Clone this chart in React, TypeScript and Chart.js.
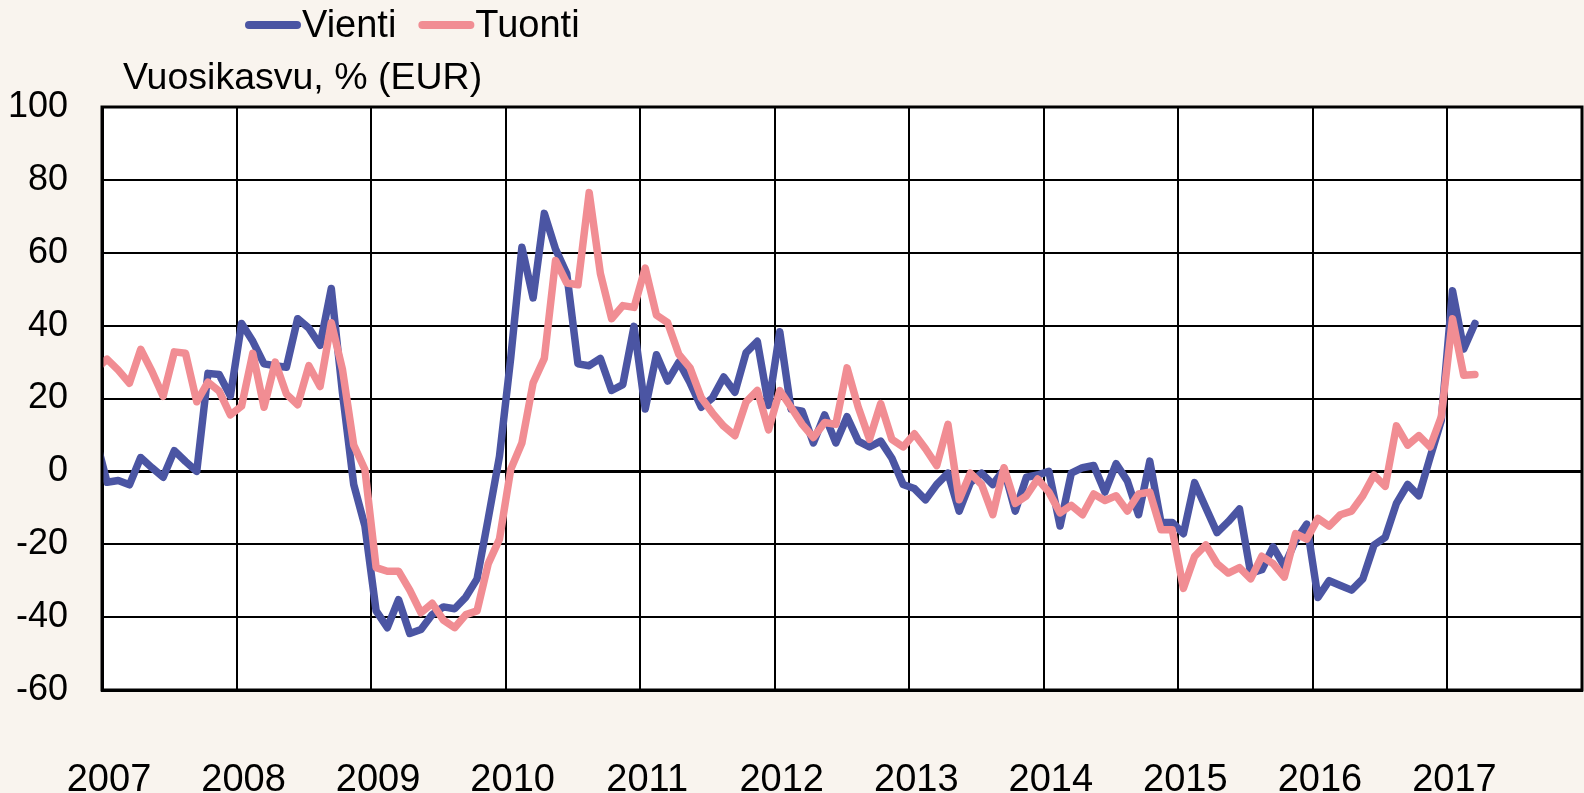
import React, { useEffect, useRef } from "react";
import { Chart, registerables } from "chart.js";

Chart.register(...registerables);

// Monthly series, Dec 2006 .. Mar 2017 (first value lies just before the axis start)
const YEAR_LABELS = ["2007", "2008", "2009", "2010", "2011", "2012", "2013", "2014", "2015", "2016", "2017"];
const Y_TICKS = [-60, -40, -20, 0, 20, 40, 60, 80, 100];

const VIENTI = [
  9,
  -3, -2.5, -3.7, 3.8, 1.0, -1.6, 5.7, 2.7, 0, 26.9, 26.6, 20.7,
  40.6, 35.7, 29.5, 29.0, 28.6, 41.9, 39.3, 34.6, 50.2, 21.5, -3.6, -15.0,
  -38.3, -42.9, -35.2, -44.5, -43.4, -39.3, -37.2, -37.7, -34.5, -29.5, -12.9, 4.1,
  31, 61.5, 47.6, 70.8, 61.0, 54.3, 29.5, 29.0, 31.0, 22.2, 23.8, 39.8,
  17.1, 32.0, 24.8, 30.0, 24.3, 17.6, 20.2, 25.9, 21.7, 32.6, 35.7, 18.1,
  38.3, 17.1, 16.5, 7.8, 15.5, 7.8, 15.0, 8.3, 6.7, 8.3, 3.6, -3.6,
  -4.7, -7.8, -3.6, -0.5, -10.9, -3.1, -0.5, -3.6, 0.5, -10.9, -1.6, -1.0,
  0, -15.0, -0.5, 1.0, 1.6, -5.7, 2.1, -2.6, -11.9, 2.8, -14.0, -14.0,
  -17.1, -3.1, -10.0, -16.8, -13.8, -10.3, -27.9, -27.0, -20.7, -26.0, -19.0, -14.5,
  -34.6, -30.0, -31.3, -32.6, -29.5, -20.2, -18.1, -8.8, -3.6, -6.7, 3.8, 14.0,
  49.6, 33.6, 40.6,
];

const TUONTI = [
  28,
  30.8, 27.8, 24.2, 33.5, 27.5, 20.6, 32.8, 32.4, 19.1, 24.5, 22.0, 15.5,
  17.9, 32.4, 17.6, 30.0, 21.2, 18.3, 29.0, 23.3, 40.8, 27.9, 7.2, 0.5,
  -26.4, -27.4, -27.4, -32.6, -38.8, -36.2, -40.8, -42.9, -39.3, -38.3, -25.3, -18.6,
  0.5, 7.8, 24.3, 31.0, 57.9, 51.7, 51.2, 76.5, 54.3, 41.9, 45.5, 45.0,
  55.8, 42.9, 40.8, 32.1, 28.4, 20.2, 16.0, 12.4, 9.8, 19.1, 22.2, 11.4,
  22.2, 17.6, 12.9, 9.3, 13.4, 12.9, 28.4, 17.6, 8.8, 18.6, 8.8, 6.7,
  10.3, 6.2, 1.6, 12.9, -7.8, -0.5, -3.6, -11.9, 1.0, -8.8, -6.7, -2.1,
  -5.7, -11.4, -9.3, -11.9, -6.2, -8.0, -6.7, -10.9, -6.2, -5.7, -16.0, -16.0,
  -32.1, -23.3, -20.2, -25.3, -27.9, -26.4, -29.5, -23.3, -25.3, -29.0, -17.1, -18.6,
  -12.9, -15.0, -11.9, -10.9, -6.7, -1.0, -4.1, 12.5, 7.2, 9.8, 6.7, 15.0,
  41.9, 26.4, 26.6,
];

const SERIES_NAMES = ["Vienti", "Tuonti"];
const SERIES_COLORS = ["#4B55A3", "#F18D93"];
const Y_TITLE = "Vuosikasvu, % (EUR)";

const FONT = '"Liberation Sans", Arial, sans-serif';
const BG = "#F9F4EE";
const MONTH_OFFSET = 0.45; // points sit a little after the year gridline

const toPoints = (arr: number[]) => arr.map((v, i) => ({ x: i - 1 + MONTH_OFFSET, y: v }));

const decor = {
  id: "decor",
  beforeDraw(chart: any) {
    const { ctx, chartArea: a } = chart;
    ctx.save();
    ctx.fillStyle = BG;
    ctx.fillRect(0, 0, chart.width, chart.height);
    ctx.fillStyle = "#FFFFFF";
    ctx.fillRect(a.left, a.top, a.right - a.left, a.bottom - a.top);
    ctx.restore();
  },
  afterDatasetsDraw(chart: any) {
    const { ctx, chartArea: a } = chart;
    ctx.save();
    ctx.strokeStyle = "#000";
    ctx.lineWidth = 3;
    ctx.strokeRect(a.left, a.top, a.right - a.left, a.bottom - a.top);
    ctx.restore();
  },
  afterDraw(chart: any) {
    const { ctx } = chart;
    ctx.save();
    ctx.textBaseline = "alphabetic";
    ctx.textAlign = "left";
    // legend
    ctx.font = `38px ${FONT}`;
    let x = 245;
    const sample = 56;
    chart.data.datasets.forEach((ds: any) => {
      ctx.strokeStyle = ds.borderColor;
      ctx.lineWidth = 8;
      ctx.lineCap = "round";
      ctx.beginPath();
      ctx.moveTo(x + 4, 25);
      ctx.lineTo(x + sample - 4, 25);
      ctx.stroke();
      ctx.fillStyle = "#000";
      ctx.fillText(ds.label, x + sample + 1, 37);
      x += sample + 1 + ctx.measureText(ds.label).width + 22;
    });
    // axis title
    ctx.font = `37.5px ${FONT}`;
    ctx.fillStyle = "#000";
    ctx.fillText(Y_TITLE, 123, 89);
    ctx.restore();
  },
};

export default function App() {
  const ref = useRef<HTMLCanvasElement | null>(null);

  useEffect(() => {
    if (!ref.current) return;
    const nMonths = YEAR_LABELS.length * 12;
    const mkDataset = (i: number, values: number[], order: number) => ({
      label: SERIES_NAMES[i],
      data: toPoints(values),
      borderColor: SERIES_COLORS[i],
      backgroundColor: SERIES_COLORS[i],
      borderWidth: 7.5,
      pointRadius: 0,
      tension: 0,
      borderJoinStyle: "round",
      borderCapStyle: "round",
      clip: 0,
      order,
    });
    const chart = new Chart(ref.current, {
      type: "line",
      data: {
        datasets: [mkDataset(0, VIENTI, 2), mkDataset(1, TUONTI, 1)],
      },
      options: {
        responsive: false,
        animation: false,
        events: [],
        layout: { padding: { top: 107, right: 2, left: 0, bottom: 0 } },
        plugins: {
          legend: { display: false },
          tooltip: { enabled: false },
          title: { display: false },
        },
        scales: {
          x: {
            type: "linear",
            min: 0,
            max: nMonths,
            afterBuildTicks: (s: any) => {
              const t = YEAR_LABELS.map((_, i) => ({ value: i * 12 }));
              t.push({ value: nMonths });
              s.ticks = t;
            },
            afterFit: (s: any) => {
              s.height = 103;
              s.paddingLeft = 0;
              s.paddingRight = 0;
            },
            grid: {
              color: "#000",
              lineWidth: 2,
              drawTicks: false,
            },
            border: { color: "#000", width: 3 },
            ticks: {
              color: "#000",
              font: { family: FONT, size: 38 },
              padding: 68,
              labelOffset: 7,
              maxRotation: 0,
              autoSkip: false,
              callback: (v: any) => {
                const i = Math.round(Number(v) / 12);
                return i < YEAR_LABELS.length ? YEAR_LABELS[i] : "";
              },
            },
          },
          y: {
            min: Y_TICKS[0],
            max: Y_TICKS[Y_TICKS.length - 1],
            afterBuildTicks: (s: any) => {
              s.ticks = Y_TICKS.map((v) => ({ value: v }));
            },
            afterFit: (s: any) => {
              s.width = 102;
            },
            grid: {
              color: "#000",
              lineWidth: (c: any) => (c.tick && c.tick.value === 0 ? 3 : 2),
              drawTicks: false,
            },
            border: { color: "#000", width: 3 },
            ticks: {
              color: "#000",
              font: { family: FONT, size: 36 },
              padding: 34,
              callback: (v: any) => String(v),
            },
          },
        },
      },
      plugins: [decor],
    } as any);
    return () => chart.destroy();
  }, []);

  return (
    <div style={{ position: "fixed", left: 0, top: 0, width: 1584, height: 793, background: BG }}>
      <canvas ref={ref} width={1584} height={793} style={{ display: "block" }} />
    </div>
  );
}
